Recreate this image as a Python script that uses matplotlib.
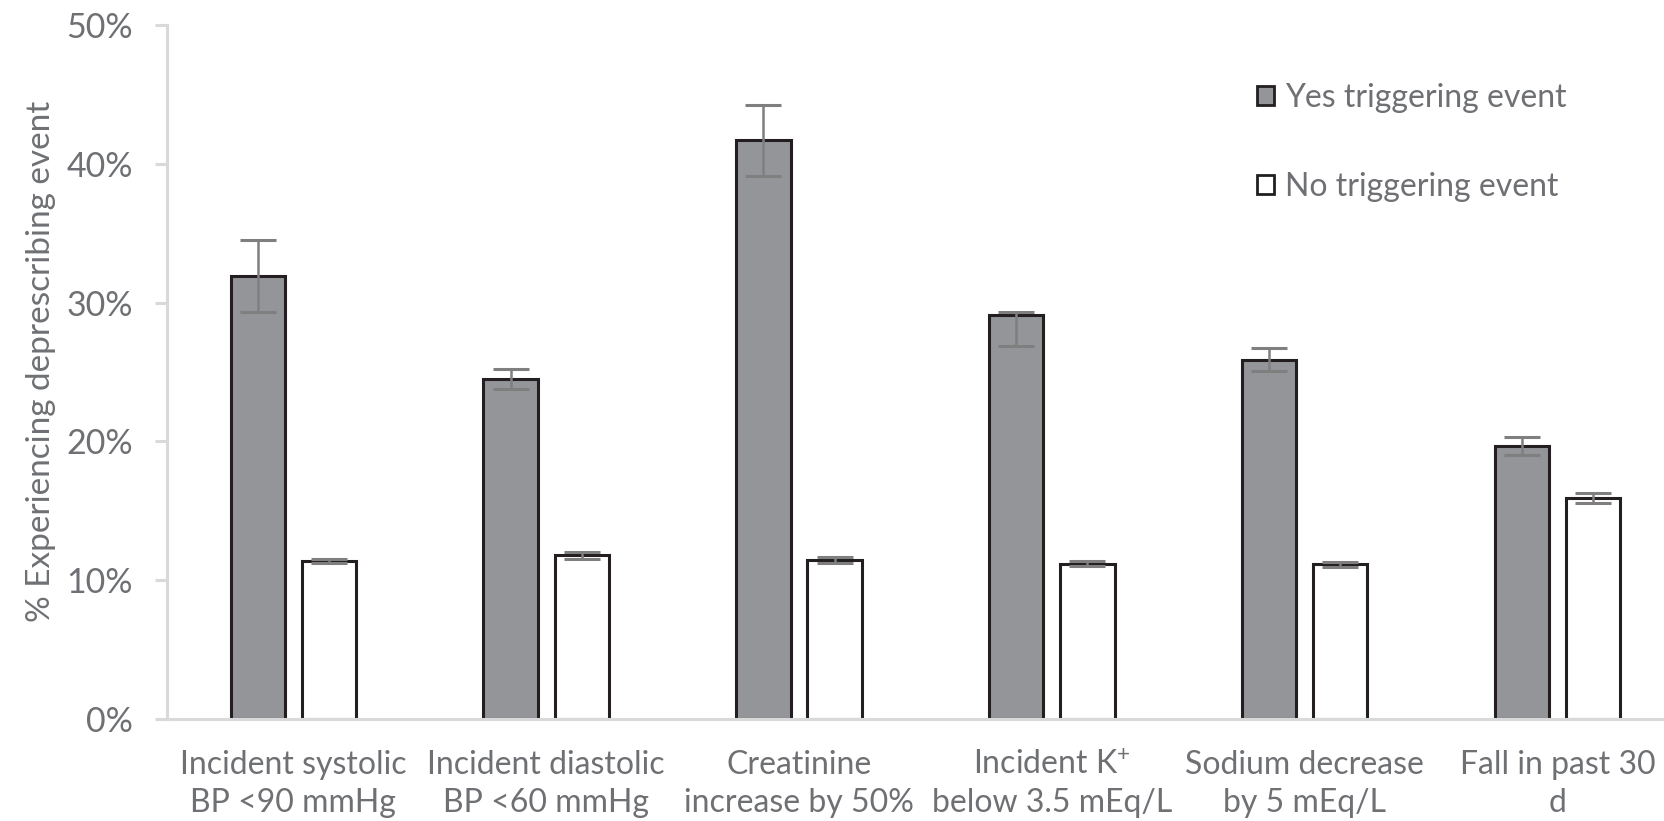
import numpy as np
import matplotlib
matplotlib.use("Agg")
import matplotlib.pyplot as plt
from matplotlib.patches import Patch
import matplotlib.ticker as ticker

# Data (percent)
categories = ['Incident systolic\nBP <90 mmHg',
              'Incident diastolic\nBP <60 mmHg',
              'Creatinine\nincrease by 50%',
              'Incident K$^{+}$\nbelow 3.5 mEq/L',
              'Sodium decrease\nby 5 mEq/L',
              'Fall in past 30\nd']
yes_vals = [31.9, 24.5, 41.7, 29.1, 25.9, 19.7]
yes_err_lo = [2.6, 0.7, 2.55, 2.2, 0.85, 0.65]
yes_err_hi = [2.6, 0.7, 2.55, 0.2, 0.85, 0.65]
no_vals = [11.4, 11.8, 11.45, 11.2, 11.15, 15.9]
no_err = [0.15, 0.25, 0.22, 0.15, 0.18, 0.35]
series_names = ['Yes triggering event', 'No triggering event']

text_color = '#6e7073'
axis_color = '#d9d9d9'
bar_grey = '#939598'
err_color = '#7f7f7f'

plt.rcParams['font.family'] = 'Lato'
plt.rcParams['mathtext.fontset'] = 'custom'
plt.rcParams['mathtext.rm'] = 'Lato'
plt.rcParams['mathtext.it'] = 'Lato'

fig = plt.figure(figsize=(16.65, 8.21), dpi=100)
ax = fig.add_axes([0.1003, 0.1242, 0.911, 0.8453])

x = np.arange(len(categories))
w = 0.215
off = 0.141
yes = np.array(yes_vals) / 100
no = np.array(no_vals) / 100

ax.bar(x - off, yes, width=w, color=bar_grey, edgecolor='#231f20', linewidth=2.2, zorder=2)
ax.bar(x + off, no, width=w, color='white', edgecolor='#231f20', linewidth=2.2, zorder=2)
ax.errorbar(x - off, yes, yerr=[np.array(yes_err_lo) / 100, np.array(yes_err_hi) / 100],
            fmt='none', ecolor=err_color, elinewidth=1.8, capsize=13, capthick=2.2, zorder=3)
ax.errorbar(x + off, no, yerr=np.array(no_err) / 100,
            fmt='none', ecolor=err_color, elinewidth=1.8, capsize=13, capthick=2.2, zorder=3)

ax.set_xlim(-0.5, len(categories) - 0.5)
ax.set_ylim(0, 0.5)
ax.yaxis.set_major_locator(ticker.MultipleLocator(0.1))
ax.yaxis.set_major_formatter(ticker.PercentFormatter(1.0, decimals=0))
ax.set_xticks(x)
ax.set_xticklabels(categories, fontsize=23, color=text_color, linespacing=1.33)

for s in ['top', 'right']:
    ax.spines[s].set_visible(False)
for s in ['left', 'bottom']:
    ax.spines[s].set_color(axis_color)
    ax.spines[s].set_linewidth(2.2)
ax.tick_params(axis='y', length=8.5, width=2.2, color=axis_color, labelsize=24.5,
               labelcolor=text_color, pad=16)
ax.tick_params(axis='x', length=0, pad=22)

ax.set_ylabel('% Experiencing deprescribing event', fontsize=24, color=text_color)
ax.yaxis.set_label_coords(-0.0735, 0.515)

handles = [Patch(facecolor=bar_grey, edgecolor='#231f20', linewidth=2),
           Patch(facecolor='white', edgecolor='#231f20', linewidth=2)]
leg = fig.legend(handles, series_names, loc='upper left', bbox_to_anchor=(0.7375, 0.934),
                 frameon=False, fontsize=23, handlelength=0.55, handleheight=0.55,
                 handletextpad=0.35, labelspacing=1.85)
for t in leg.get_texts():
    t.set_color(text_color)

fig.savefig('out.png', dpi=100)
